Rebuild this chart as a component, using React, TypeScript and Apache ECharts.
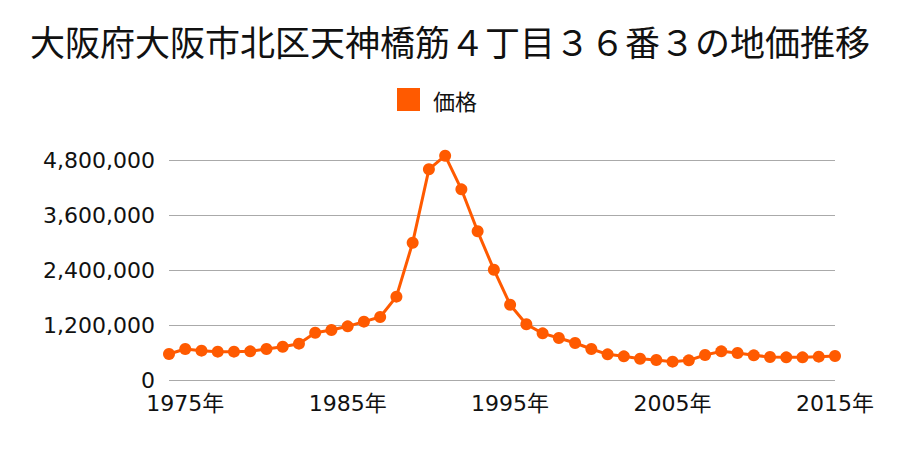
import React, { useEffect, useRef } from "react";
import * as echarts from "echarts";

const years: string[] = [
  "1974年", "1975年", "1976年", "1977年", "1978年", "1979年", "1980年", "1981年", "1982年", "1983年",
  "1984年", "1985年", "1986年", "1987年", "1988年", "1989年", "1990年", "1991年", "1992年", "1993年",
  "1994年", "1995年", "1996年", "1997年", "1998年", "1999年", "2000年", "2001年", "2002年", "2003年",
  "2004年", "2005年", "2006年", "2007年", "2008年", "2009年", "2010年", "2011年", "2012年", "2013年",
  "2014年", "2015年",
];

const prices: number[] = [
  567000, 676000, 640000, 618000, 618000, 625000, 676000, 727000, 793000, 1032000,
  1091000, 1171000, 1273000, 1375000, 1818000, 2996000, 4597000, 4894000, 4160000, 3244000,
  2407000, 1643000, 1215000, 1018000, 916000, 807000, 676000, 560000, 516000, 465000,
  436000, 400000, 429000, 545000, 625000, 589000, 538000, 502000, 494000, 494000,
  509000, 524000,
];

const labelYears: string[] = ["1975年", "1985年", "1995年", "2005年", "2015年"];

const title = "大阪府大阪市北区天神橋筋４丁目３６番３の地価推移";
const seriesName = "価格";

export default function App() {
  const ref = useRef<HTMLDivElement>(null);
  useEffect(() => {
    if (!ref.current) return;
    const chart = echarts.init(ref.current, undefined, { renderer: "svg" });
    const cjk = "'Noto Sans CJK JP', 'Noto Sans', sans-serif";
    const num = "'DejaVu Sans', 'Noto Sans CJK JP', sans-serif";
    chart.setOption({
      animation: false,
      textStyle: { fontFamily: cjk },
      title: {
        text: title,
        left: "center",
        top: 18,
        textStyle: { fontSize: 35, fontWeight: "normal", color: "#111", fontFamily: cjk },
      },
      legend: {
        data: [seriesName],
        top: 83,
        left: 392,
        icon: "rect",
        itemWidth: 23,
        itemHeight: 23,
        textStyle: { fontSize: 22, color: "#111", fontFamily: cjk, padding: [0, 0, 0, 8] },
      },
      grid: { left: 169, right: 65, top: 160, bottom: 70, containLabel: false },
      xAxis: {
        type: "category",
        data: years,
        boundaryGap: false,
        axisLine: { show: false },
        axisTick: { show: false },
        splitLine: { show: false },
        axisLabel: {
          interval: (i: number, v: string) => labelYears.indexOf(v) >= 0,
          fontSize: 22,
          color: "#111",
          margin: 12,
          fontFamily: num,
        },
      },
      yAxis: {
        type: "value",
        min: 0,
        max: 4800000,
        interval: 1200000,
        axisLine: { show: false },
        axisTick: { show: false },
        splitLine: { lineStyle: { color: "#aaaaaa", width: 1 } },
        axisLabel: {
          fontSize: 22,
          color: "#111",
          margin: 14,
          fontFamily: num,
          formatter: (v: number) => v.toLocaleString("en-US"),
        },
      },
      series: [
        {
          name: seriesName,
          type: "line",
          data: prices,
          color: "#ff5a00",
          symbol: "circle",
          symbolSize: 12,
          showAllSymbol: true,
          clip: false,
          lineStyle: { width: 3, color: "#ff5a00" },
          itemStyle: { color: "#ff5a00" },
        },
      ],
    });
    return () => chart.dispose();
  }, []);
  return <div ref={ref} style={{ width: 900, height: 450, position: "absolute", left: 0, top: 0 }} />;
}
